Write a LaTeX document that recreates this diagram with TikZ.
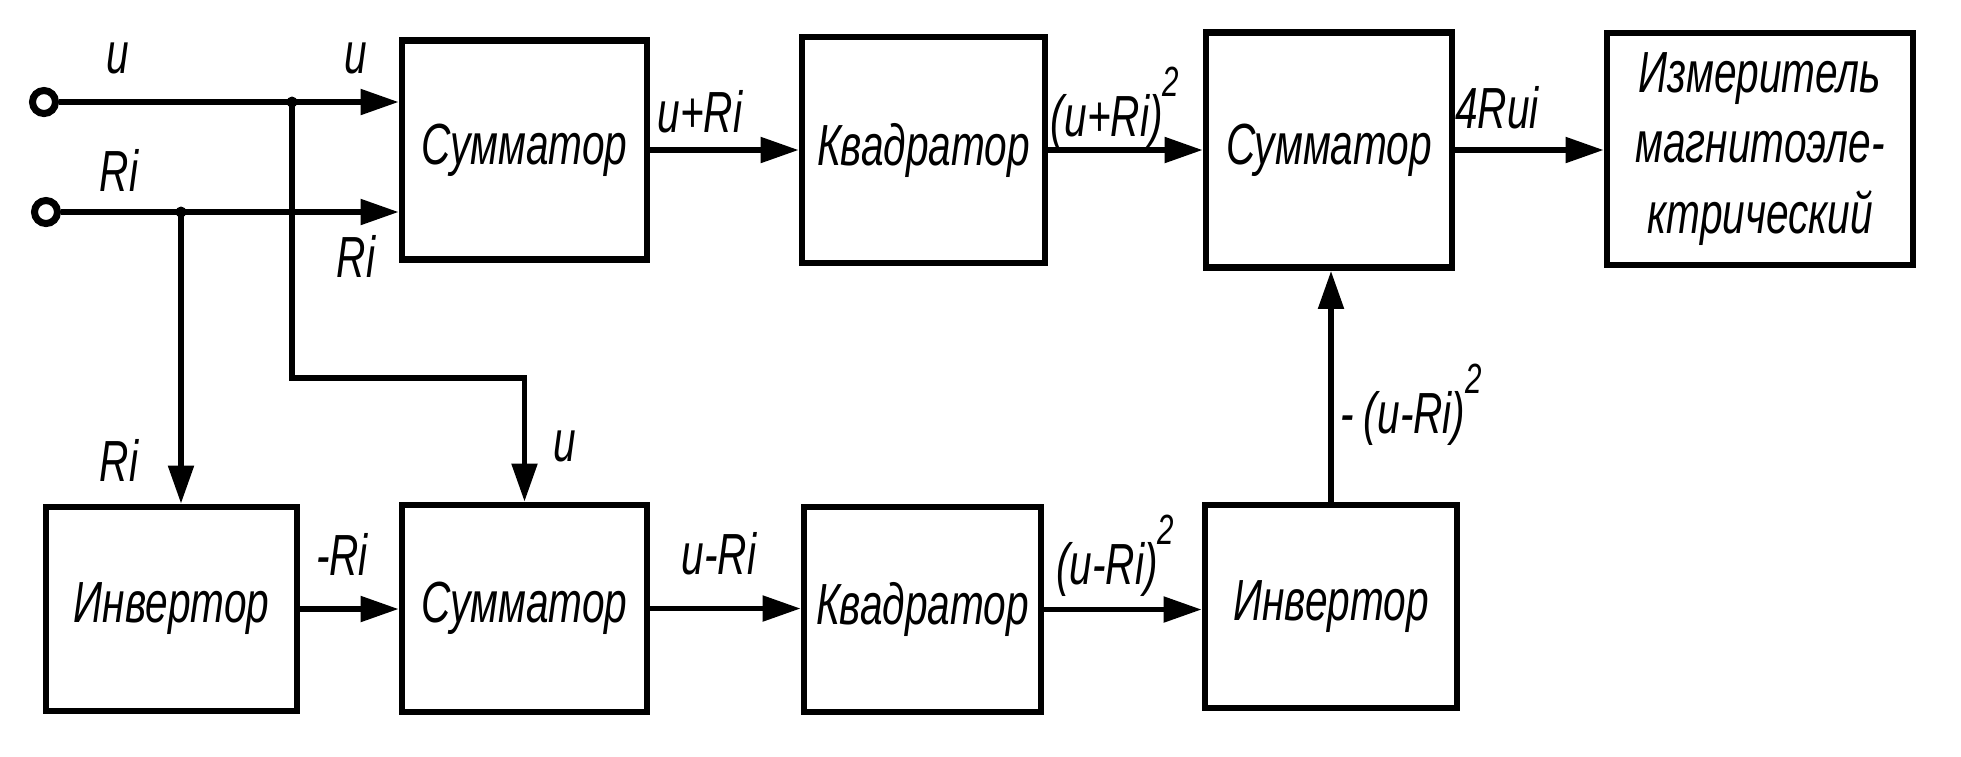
\documentclass[tikz,border=0pt]{standalone}
\usepackage{fontspec}
\setmainfont{Liberation Sans}[FakeStretch=0.7]
\usetikzlibrary{arrows.meta}

% стили блоков и линий
\tikzset{
  block/.style={draw, line width=1.9pt, inner sep=0pt, align=center},
  wire/.style={line width=1.5pt},
  sig/.style={line width=1.5pt, -{Triangle[length=3.8mm,width=2.5mm]}},
  terminal/.style={circle, draw, fill=white, line width=2pt, minimum size=0.23cm, inner sep=0pt},
  lbl/.style={inner sep=0pt},
}
\newcommand{\sqr}{\raisebox{1.3ex}{\fontsize{12}{12}\selectfont 2}}

\begin{document}
\begin{tikzpicture}[x=0.01cm, y=-0.01cm, font=\fontsize{16.5}{20}\selectfont\itshape, line join=miter]
  \useasboundingbox (0,0) rectangle (1961,756);

  % верхний ряд
  \node[block, minimum width=2.45cm, minimum height=2.19cm] (summA) at (524.5,150) {Сумматор};
  \node[block, minimum width=2.43cm, minimum height=2.26cm] (kvadA) at (923.5,150) {Квадратор};
  \node[block, minimum width=2.46cm, minimum height=2.35cm] (summC) at (1329,150) {Сумматор};
  \node[block, minimum width=3.06cm, minimum height=2.32cm] (izm) at (1760,149)
    {Измеритель\\магнитоэле-\\ктрический};

  % нижний ряд
  \node[block, minimum width=2.51cm, minimum height=2.04cm] (invA) at (171.5,609) {Инвертор};
  \node[block, minimum width=2.45cm, minimum height=2.07cm] (summB) at (524.5,608.5) {Сумматор};
  \node[block, minimum width=2.37cm, minimum height=2.05cm] (kvadB) at (922.5,609.5) {Квадратор};
  \node[block, minimum width=2.52cm, minimum height=2.03cm] (invB) at (1331,606.5) {Инвертор};

  % входы
  \node[terminal] (inU) at (44,102) {};
  \node[terminal] (inRi) at (46,212) {};
  \coordinate (jU) at (292,102);
  \coordinate (jRi) at (181,212);
  \coordinate (kU) at (292,378);

  \draw[wire] (inU) -- (jU);
  \draw[sig] (jU) -- (jU -| summA.west);
  \draw[wire] (inRi) -- (jRi);
  \draw[sig] (jRi) -- (jRi -| summA.west);
  \draw[sig] (jRi) -- (jRi |- invA.north);
  \draw[sig] (jU) -- (kU) -| (summB.north);
  \fill (jU) circle[radius=0.055cm];
  \fill (jRi) circle[radius=0.055cm];

  % связи между блоками
  \draw[sig] (summA.east) -- (summA.east -| kvadA.west);
  \draw[sig] (kvadA.east) -- (kvadA.east -| summC.west);
  \draw[sig] (summC.east) -- (summC.east -| izm.west);
  \draw[sig] (invA.east) -- (invA.east -| summB.west);
  \draw[sig] (summB.east) -- (summB.east -| kvadB.west);
  \draw[sig] (kvadB.east) -- (kvadB.east -| invB.west);
  \draw[sig] (invB.north) -- (invB.north |- summC.south);

  % подписи сигналов
  \node[lbl] (tU0) at (118,58) {u};
  \node[lbl] (tU1) at (356,58) {u};
  \node[lbl] (tRi0) at (119,170) {Ri};
  \node[lbl] (tRi1) at (356,256) {Ri};
  \node[lbl] (tRi2) at (119,460) {Ri};
  \node[lbl] (tU2) at (565,446) {u};
  \node[lbl] (tmRi) at (342,554) {-Ri};
  \node[lbl] (tsum) at (700,112) {u+Ri};
  \node[lbl] (tdif) at (719,554) {u-Ri};
  \node[lbl] (tsqA) at (1115,108) {(u+Ri)\sqr};
  \node[lbl] (tsqB) at (1115,556) {(u-Ri)\sqr};
  \node[lbl, anchor=west] (tneg) at (1340,405) {-\,(u-Ri)\sqr};
  \node[lbl] (tout) at (1497,108) {4Rui};
\end{tikzpicture}
\end{document}
